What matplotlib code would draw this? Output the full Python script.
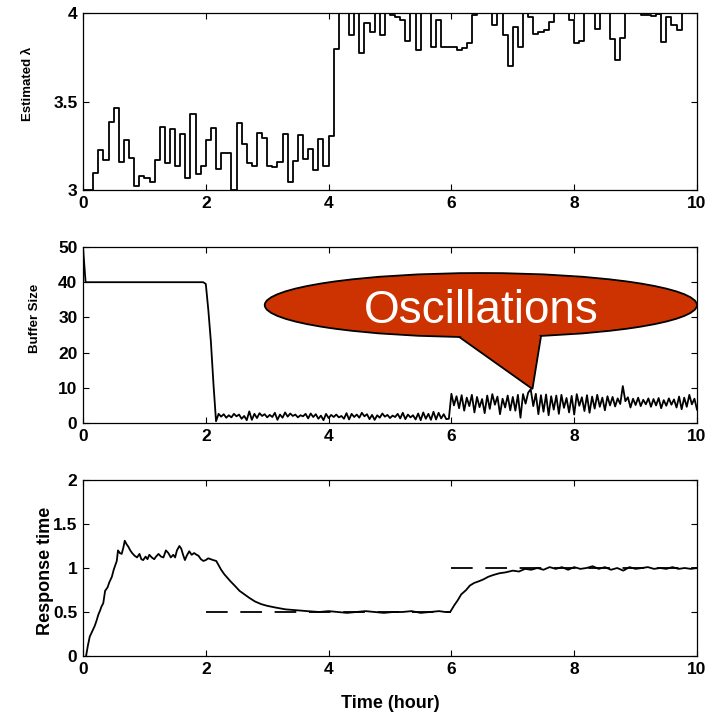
import numpy as np
import matplotlib
matplotlib.use('Agg')
import matplotlib.pyplot as plt
from matplotlib.patches import Ellipse, Polygon

plt.rcParams['font.family'] = ['Liberation Sans', 'DejaVu Sans']

# estimated lambda, one value every 5 minutes (1/12 hour)
lam_step = 1.0 / 12
lam = [3.0, 3.0, 3.094, 3.226, 3.17, 3.387, 3.462, 3.157, 3.283, 3.18, 3.023, 3.08,
       3.066, 3.045, 3.17, 3.358, 3.15, 3.343, 3.138, 3.317, 3.07, 3.43, 3.089, 3.138,
       3.28, 3.35, 3.117, 3.21, 3.21, 3.0, 3.377, 3.258, 3.15, 3.138, 3.32, 3.296,
       3.138, 3.132, 3.157, 3.315, 3.047, 3.164, 3.311, 3.174, 3.23, 3.113, 3.287, 3.136,
       3.306, 3.798, 4.0, 4.0, 3.874, 4.0, 3.774, 3.943, 3.89, 4.0, 3.874, 4.0,
       3.99, 3.98, 3.96, 3.84, 4.0, 3.79, 4.0, 4.0, 3.806, 3.96, 3.81, 3.81,
       3.81, 3.79, 3.80, 3.83, 3.99, 4.0, 4.0, 4.0, 3.93, 4.0, 3.877, 3.70,
       3.92, 3.806, 4.0, 3.98, 3.88, 3.89, 3.906, 3.95, 4.0, 4.0, 4.0, 3.96,
       3.83, 3.84, 4.0, 4.0, 3.91, 4.0, 4.0, 3.853, 3.736, 3.86, 4.0, 4.0,
       4.0, 3.99, 3.99, 3.985, 3.995, 3.834, 3.98, 3.93, 3.906, 4.0, 4.0, 4.0]

# buffer size: flat start, then samples every 2.5 minutes from t=2h
buf_head_t = [0.0, 0.042, 1.958]
buf_head = [50, 40, 40]
buf_step = 1.0 / 24
buf_start = 2.0
buf = [39.5, 32, 23, 11, 0.5, 2.6, 1.8, 2.5, 1.5, 2.2, 1.6, 2.6,
       1.9, 2.4, 1.2, 2.0, 0.8, 3.3, 0.9, 2.6, 1.4, 2.8, 2.0, 2.5,
       1.6, 2.3, 1.7, 2.9, 0.9, 2.4, 1.5, 3.0, 1.8, 2.7, 2.0, 2.4,
       1.6, 2.2, 1.9, 2.6, 1.3, 2.7, 1.7, 2.5, 1.2, 2.1, 0.8, 2.6,
       1.4, 2.3, 1.7, 2.4, 1.6, 2.0, 1.2, 2.8, 1.0, 2.6, 1.7, 2.4,
       1.5, 2.9, 1.9, 2.5, 1.1, 2.3, 0.9, 2.2, 1.5, 2.7, 1.8, 2.3,
       1.4, 2.1, 1.7, 2.6, 1.3, 2.9, 1.1, 2.4, 1.6, 2.2, 1.0, 2.7,
       0.8, 3.0, 1.2, 2.6, 0.9, 3.2, 1.0, 2.9, 1.3, 2.5, 1.1, 1.2,
       8.3, 5.0, 7.6, 4.2, 7.9, 3.5, 7.2, 4.8, 8.0, 3.0, 7.4, 4.5,
       6.8, 2.8, 7.8, 4.0, 8.2, 5.2, 7.5, 2.5, 6.9, 4.4, 7.8, 3.6,
       7.4, 3.5, 8.0, 1.5, 8.2, 5.5, 8.6, 9.6, 4.8, 8.3, 2.5, 7.9,
       3.2, 8.1, 2.2, 7.6, 3.8, 7.8, 2.6, 8.0, 4.3, 7.1, 3.0, 7.7,
       2.4, 8.2, 4.9, 7.3, 3.4, 7.9, 2.9, 7.5, 4.1, 8.0, 4.6, 7.2,
       3.6, 7.6, 5.0, 7.4, 4.7, 7.0, 5.4, 10.5, 6.2, 7.3, 4.4, 6.9,
       5.1, 7.2, 4.8, 6.6, 5.3, 7.0, 4.6, 6.8, 5.0, 7.1, 4.2, 6.5,
       4.9, 7.0, 5.2, 6.7, 4.4, 7.5, 3.9, 7.2, 4.6, 8.0, 5.3, 6.9,
       3.8]

# response time
rt_t_a = [0.05, 0.08, 0.11, 0.15, 0.19, 0.22, 0.25, 0.28, 0.30, 0.33,
          0.36, 0.40, 0.43, 0.47, 0.50, 0.52, 0.55, 0.57, 0.60, 0.63,
          0.66, 0.68, 0.71, 0.74, 0.77, 0.80, 0.84, 0.88, 0.92, 0.95,
          0.98, 1.02, 1.05, 1.08, 1.12, 1.16, 1.19, 1.23, 1.27, 1.31,
          1.35, 1.39, 1.43, 1.47, 1.50, 1.53, 1.57, 1.60, 1.63, 1.66,
          1.69, 1.73, 1.77, 1.81, 1.85, 1.88, 1.92, 1.96, 2.00, 2.04,
          2.08, 2.12, 2.17]
rt_v_a = [0.00, 0.12, 0.22, 0.28, 0.34, 0.40, 0.47, 0.52, 0.56, 0.60,
          0.74, 0.78, 0.84, 0.90, 0.98, 1.02, 1.08, 1.20, 1.17, 1.16,
          1.24, 1.31, 1.27, 1.24, 1.20, 1.17, 1.14, 1.12, 1.16, 1.10,
          1.09, 1.13, 1.10, 1.15, 1.12, 1.10, 1.13, 1.16, 1.13, 1.12,
          1.20, 1.17, 1.12, 1.15, 1.12, 1.20, 1.25, 1.22, 1.15, 1.09,
          1.14, 1.19, 1.15, 1.17, 1.15, 1.14, 1.10, 1.08, 1.09, 1.11,
          1.10, 1.09, 1.08]
rt_t_b = [2.21, 2.25, 2.30, 2.35, 2.40, 2.47, 2.55, 2.63, 2.71, 2.80,
          2.90, 3.00, 3.14, 3.30, 3.47, 3.65, 3.85, 4.00, 4.15, 4.30,
          4.45, 4.60, 4.75, 4.90, 5.05, 5.20, 5.35, 5.50, 5.65, 5.80,
          5.90, 5.98]
rt_v_b = [1.03, 0.98, 0.93, 0.89, 0.85, 0.80, 0.74, 0.70, 0.66, 0.62,
          0.59, 0.57, 0.55, 0.53, 0.52, 0.51, 0.50, 0.51, 0.50, 0.49,
          0.50, 0.51, 0.50, 0.49, 0.50, 0.50, 0.51, 0.49, 0.50, 0.51,
          0.50, 0.50]
rt_t_c = [6.05, 6.10, 6.16, 6.24, 6.30, 6.37, 6.45, 6.52, 6.60, 6.68,
          6.78, 6.88, 7.00, 7.10, 7.20, 7.30, 7.40, 7.50, 7.60, 7.70,
          7.80, 7.90, 8.00, 8.10, 8.20, 8.30, 8.40, 8.50, 8.60, 8.70,
          8.80, 8.90, 9.00, 9.10, 9.20, 9.30, 9.40, 9.50, 9.60, 9.70,
          9.80, 9.90, 10.0]
rt_v_c = [0.58, 0.63, 0.70, 0.75, 0.80, 0.83, 0.85, 0.87, 0.90, 0.92,
          0.94, 0.95, 0.97, 0.96, 0.99, 0.98, 1.00, 0.98, 1.01, 0.99,
          1.01, 0.98, 1.01, 0.99, 1.00, 1.02, 0.99, 1.01, 0.98, 1.00,
          0.97, 1.01, 0.99, 1.00, 1.01, 0.99, 1.00, 0.99, 1.01, 0.99,
          1.00, 0.99, 1.00]

# target response time
ref_start = [2, 6]
ref_end = [6, 10]
ref_level = [0.5, 1.0]

xticks = [0, 2, 4, 6, 8, 10]

W, H = 718, 716
fig = plt.figure(figsize=(W / 100, H / 100), dpi=100)


def px_axes(top, bottom, left=83, right=697):
    return fig.add_axes([left / W, 1 - bottom / H, (right - left) / W, (bottom - top) / H])


def style(ax, yticks, ylabels):
    ax.set_xlim(0, 10)
    ax.set_xticks(xticks)
    ax.set_xticklabels([str(x) for x in xticks])
    ax.set_yticks(yticks)
    ax.set_yticklabels(ylabels)
    ax.tick_params(direction='in', top=True, right=True, length=4, width=0.8,
                   labelsize=12.5, pad=4)
    for lbl in ax.get_xticklabels() + ax.get_yticklabels():
        lbl.set_fontweight('bold')
    for s in ax.spines.values():
        s.set_linewidth(0.9)


lw = 1.3

# top: estimated lambda
ax1 = px_axes(13, 190)
t1 = np.arange(len(lam) + 1) * lam_step
ax1.step(t1, lam + [lam[-1]], where='post', color='k', lw=lw)
ax1.set_ylim(3, 4)
style(ax1, [3, 3.5, 4], ['3', '3.5', '4'])

# middle: buffer size
ax2 = px_axes(247, 423)
t2 = np.concatenate([buf_head_t, buf_start + np.arange(len(buf)) * buf_step])
ax2.plot(t2, buf_head + buf, color='k', lw=lw)
ax2.set_ylim(0, 50)
style(ax2, [0, 10, 20, 30, 40, 50], ['0', '10', '20', '30', '40', '50'])

# callout
red = '#cc3300'
ell = Ellipse((6.48, 33.5), 7.04, 18.2, facecolor=red, edgecolor='k', lw=1.3,
              clip_on=False, zorder=5)
ax2.add_patch(ell)
ptr = Polygon([(6.13, 24.4), (7.32, 9.66), (7.46, 24.7), (6.78, 29.3)],
              closed=True, facecolor=red, edgecolor='none', clip_on=False, zorder=6)
ax2.add_patch(ptr)
ax2.plot([6.13, 7.32, 7.46], [24.4, 9.66, 24.7], color='k', lw=1.3, zorder=7,
         solid_joinstyle='miter')
ax2.text(6.48, 28.4, 'Oscillations', color='white', fontsize=33, ha='center',
         va='baseline', zorder=8)

# bottom: response time
ax3 = px_axes(480, 656)
for a, b, v in zip(ref_start, ref_end, ref_level):
    ln, = ax3.plot([a, b], [v, v], color='k', lw=lw, zorder=2)
    ln.set_dashes([12, 7])
ax3.plot(rt_t_a + rt_t_b + rt_t_c, rt_v_a + rt_v_b + rt_v_c, color='k', lw=lw, zorder=3)
ax3.set_ylim(0, 2)
style(ax3, [0, 0.5, 1, 1.5, 2], ['0', '0.5', '1', '1.5', '2'])

# labels
fig.text(28 / W, 1 - 84 / H, 'Estimated λ', rotation=90, ha='center', va='center',
         fontsize=9.5, fontweight='bold')
fig.text(35 / W, 1 - 318 / H, 'Buffer Size', rotation=90, ha='center', va='center',
         fontsize=9.5, fontweight='bold')
fig.text(45 / W, 1 - 571 / H, 'Response time', rotation=90, ha='center', va='center',
         fontsize=13, fontweight='bold')
fig.text(390 / W, 1 - 703 / H, 'Time (hour)', ha='center', va='center',
         fontsize=13, fontweight='bold')

fig.savefig('out.png', dpi=100)
